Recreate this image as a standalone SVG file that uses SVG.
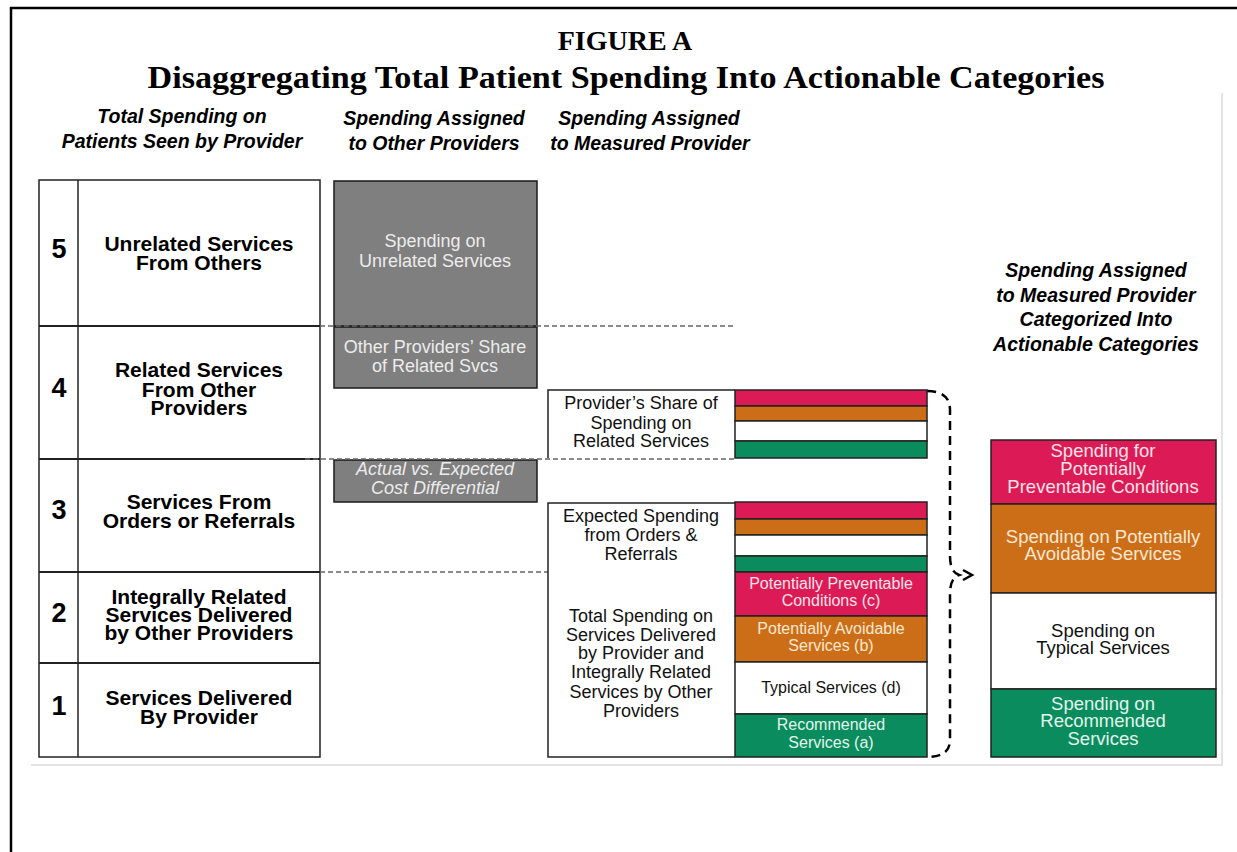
<svg xmlns="http://www.w3.org/2000/svg" width="1237" height="852" viewBox="0 0 1237 852">
<style>
.t{font-family:"Liberation Sans",Arial,sans-serif;text-anchor:middle}
.title{font-family:"Liberation Serif","Times New Roman",serif;font-weight:bold;text-anchor:middle;fill:#000}
.hdr{font-weight:bold;font-style:italic;font-size:19.5px;fill:#000}
.row{font-weight:bold;font-size:21px;fill:#000}
.num{font-weight:bold;font-size:27px;fill:#000}
.gry{fill:#7f7f7f;stroke:#1a1a1a;stroke-width:1.5}
.gtx{font-size:18px;fill:#ececec}
.edge{fill:none;stroke:#222;stroke-width:1.5}
.mtx{font-size:18px;fill:#111}
.pk{fill:#dc1a55;stroke:#222;stroke-width:1.5}
.or{fill:#cc6e18;stroke:#222;stroke-width:1.5}
.wh{fill:#fff;stroke:#222;stroke-width:1.5}
.gr{fill:#0a8c5e;stroke:#222;stroke-width:1.5}
.ctx{font-size:16px}
.rtx{font-size:18.5px}
.lp{fill:#fbe3ea}
.lo{fill:#fde8d2}
.lg{fill:#e2f6ec}
.dk{fill:#111}
.dash{stroke:#666;stroke-width:1.6;stroke-dasharray:5 3;fill:none}
.brace{stroke:#000;stroke-width:2.5;stroke-dasharray:9 6;fill:none}
</style>
<rect width="1237" height="852" fill="#fff"/>
<g id="frame">
<path d="M11,852 V8 H1237" stroke="#000" stroke-width="2.5" fill="none"/>
<path d="M31,765 H1222 V93" stroke="#dadada" stroke-width="1.5" fill="none"/>
</g>
<g id="title">
<text class="title" x="625" y="50" font-size="28">FIGURE A</text>
<text class="title" x="626" y="88" font-size="31" textLength="957" lengthAdjust="spacingAndGlyphs">Disaggregating Total Patient Spending Into Actionable Categories</text>
</g>
<g id="headers" class="t">
<text class="t hdr" x="182" y="123">Total Spending on</text>
<text class="t hdr" x="182" y="148">Patients Seen by Provider</text>
<text class="t hdr" x="434" y="125">Spending Assigned</text>
<text class="t hdr" x="434" y="150">to Other Providers</text>
<text class="t hdr" x="649" y="125">Spending Assigned</text>
<text class="t hdr" x="650" y="150">to Measured Provider</text>
<text class="t hdr" x="1096" y="277">Spending Assigned</text>
<text class="t hdr" x="1096" y="302">to Measured Provider</text>
<text class="t hdr" x="1096" y="326">Categorized Into</text>
<text class="t hdr" x="1096" y="351">Actionable Categories</text>
</g>
<g id="left-table">
<rect x="39" y="180" width="281" height="577" fill="#fff" stroke="#222" stroke-width="1.5"/>
<line x1="78" y1="180" x2="78" y2="757" stroke="#222" stroke-width="1.5"/>
<g stroke="#222" stroke-width="2">
<line x1="39" y1="326" x2="320" y2="326"/>
<line x1="39" y1="459" x2="320" y2="459"/>
<line x1="39" y1="572" x2="320" y2="572"/>
<line x1="39" y1="663" x2="320" y2="663"/>
</g>
</g>
<g id="row5" class="t">
<text class="t num" x="59" y="258">5</text>
<text class="t row" x="199" y="251">Unrelated Services</text>
<text class="t row" x="199" y="270">From Others</text>
</g>
<g id="row4" class="t">
<text class="t num" x="59" y="397">4</text>
<text class="t row" x="199" y="377">Related Services</text>
<text class="t row" x="199" y="397">From Other</text>
<text class="t row" x="199" y="415">Providers</text>
</g>
<g id="row3" class="t">
<text class="t num" x="59" y="519">3</text>
<text class="t row" x="199" y="509">Services From</text>
<text class="t row" x="199" y="528">Orders or Referrals</text>
</g>
<g id="row2" class="t">
<text class="t num" x="59" y="622">2</text>
<text class="t row" x="199" y="604">Integrally Related</text>
<text class="t row" x="199" y="622">Services Delivered</text>
<text class="t row" x="199" y="640">by Other Providers</text>
</g>
<g id="row1" class="t">
<text class="t num" x="59" y="715">1</text>
<text class="t row" x="199" y="705">Services Delivered</text>
<text class="t row" x="199" y="724">By Provider</text>
</g>
<g id="unrelated-spending">
<rect class="gry" x="334" y="181" width="203" height="145"/>
<text class="t gtx" x="435" y="247">Spending on</text>
<text class="t gtx" x="435" y="267">Unrelated Services</text>
</g>
<g id="other-providers-share">
<rect class="gry" x="334" y="327" width="203" height="61"/>
<text class="t gtx" x="435" y="353">Other Providers’ Share</text>
<text class="t gtx" x="435" y="372">of Related Svcs</text>
</g>
<g id="cost-differential">
<rect class="gry" x="334" y="460" width="203" height="42"/>
<text class="t gtx" x="435" y="475" font-style="italic">Actual vs. Expected</text>
<text class="t gtx" x="435" y="494" font-style="italic">Cost Differential</text>
</g>
<g id="connectors">
<line class="dash" x1="320" y1="326" x2="735" y2="326"/>
<line class="dash" x1="305" y1="459" x2="735" y2="459"/>
<line class="dash" x1="320" y1="572" x2="735" y2="572"/>
<path class="brace" d="M927,391 Q950,391 950,410 V556 Q950,572 959,575 Q950,578 950,594 V740 Q950,757 927,757"/>
<polyline points="963,570 972,575 963,580" fill="none" stroke="#000" stroke-width="2.5"/>
</g>
<g id="providers-share">
<rect x="548" y="390" width="187" height="68" fill="#fff"/>
<path class="edge" d="M548,458 V390 H735"/>
<text class="t mtx" x="641" y="409">Provider’s Share of</text>
<text class="t mtx" x="641" y="429">Spending on</text>
<text class="t mtx" x="641" y="447">Related Services</text>
<rect class="pk" x="735" y="390" width="192" height="16"/>
<rect class="or" x="735" y="406" width="192" height="15"/>
<rect class="wh" x="735" y="421" width="192" height="20"/>
<rect class="gr" x="735" y="441" width="192" height="17"/>
</g>
<g id="expected-spending">
<rect x="548" y="503" width="187" height="69" fill="#fff"/>
<path class="edge" d="M548,572 V503 H735"/>
<text class="t mtx" x="641" y="522">Expected Spending</text>
<text class="t mtx" x="641" y="541">from Orders &amp;</text>
<text class="t mtx" x="641" y="560">Referrals</text>
<rect class="pk" x="735" y="502" width="192" height="17"/>
<rect class="or" x="735" y="519" width="192" height="16"/>
<rect class="wh" x="735" y="535" width="192" height="21"/>
<rect class="gr" x="735" y="556" width="192" height="16"/>
</g>
<g id="total-spending">
<rect x="548" y="572" width="187" height="185" fill="#fff"/>
<path class="edge" d="M548,572 V757 H735"/>
<text class="t mtx" x="641" y="622">Total Spending on</text>
<text class="t mtx" x="641" y="641">Services Delivered</text>
<text class="t mtx" x="641" y="659">by Provider and</text>
<text class="t mtx" x="641" y="678">Integrally Related</text>
<text class="t mtx" x="641" y="698">Services by Other</text>
<text class="t mtx" x="641" y="717">Providers</text>
</g>
<g id="preventable-conditions">
<rect class="pk" x="735" y="572" width="192" height="44"/>
<text class="t ctx lp" x="831" y="589">Potentially Preventable</text>
<text class="t ctx lp" x="831" y="606">Conditions  (c)</text>
</g>
<g id="avoidable-services">
<rect class="or" x="735" y="616" width="192" height="46"/>
<text class="t ctx lo" x="831" y="634">Potentially Avoidable</text>
<text class="t ctx lo" x="831" y="651">Services (b)</text>
</g>
<g id="typical-services">
<rect class="wh" x="735" y="662" width="192" height="52"/>
<text class="t ctx dk" x="831" y="693">Typical Services (d)</text>
</g>
<g id="recommended-services">
<rect class="gr" x="735" y="714" width="192" height="43"/>
<text class="t ctx lg" x="831" y="730">Recommended</text>
<text class="t ctx lg" x="831" y="748">Services (a)</text>
</g>
<g id="cat-preventable">
<rect class="pk" x="991" y="440" width="225" height="64"/>
<text class="t rtx lp" x="1103" y="457">Spending for</text>
<text class="t rtx lp" x="1103" y="475">Potentially</text>
<text class="t rtx lp" x="1103" y="493">Preventable Conditions</text>
</g>
<g id="cat-avoidable">
<rect class="or" x="991" y="504" width="225" height="89"/>
<text class="t rtx lo" x="1103" y="543">Spending on Potentially</text>
<text class="t rtx lo" x="1103" y="560">Avoidable Services</text>
</g>
<g id="cat-typical">
<rect class="wh" x="991" y="593" width="225" height="96"/>
<text class="t rtx dk" x="1103" y="637">Spending on</text>
<text class="t rtx dk" x="1103" y="654">Typical Services</text>
</g>
<g id="cat-recommended">
<rect class="gr" x="991" y="689" width="225" height="68"/>
<text class="t rtx lg" x="1103" y="710">Spending on</text>
<text class="t rtx lg" x="1103" y="727">Recommended</text>
<text class="t rtx lg" x="1103" y="745">Services</text>
</g>
</svg>
